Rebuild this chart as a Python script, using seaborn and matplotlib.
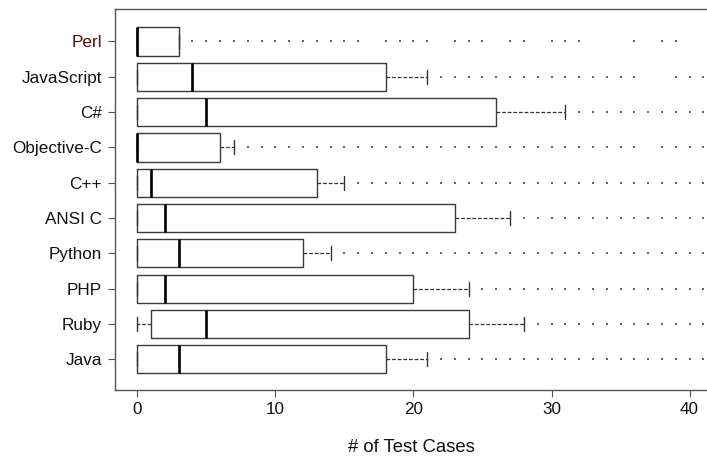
import matplotlib
matplotlib.use("Agg")
import matplotlib.pyplot as plt
import numpy as np
import pandas as pd
import seaborn as sns

# Languages listed top to bottom
languages = ["Perl", "JavaScript", "C#", "Objective-C", "C++",
             "ANSI C", "Python", "PHP", "Ruby", "Java"]

# Box statistics per language (number of test cases)
q1 = [0, 0, 0, 0, 0, 0, 0, 0, 1, 0]
median = [0, 4, 5, 0, 1, 2, 3, 2, 5, 3]
q3 = [3, 18, 26, 6, 13, 23, 12, 20, 24, 18]
whisker_lo = [0, 0, 0, 0, 0, 0, 0, 0, 0, 0]
whisker_hi = [3, 21, 31, 7, 15, 27, 14, 24, 28, 21]

# Outlying observations per language
out_perl = [4, 5, 6, 7, 8, 9, 10, 11, 12, 13, 14, 15, 16, 18, 19, 20, 21,
            23, 24, 25, 27, 28, 30, 31, 32, 36, 38, 39]
out_javascript = [22, 23, 24, 25, 26, 27, 28, 29, 30, 31, 32, 33, 34, 35, 36,
                  39, 40, 41]
out_csharp = [32, 33, 34, 35, 36, 37, 38, 39, 40, 41]
out_objc = [8, 9, 10, 11, 12, 13, 14, 15, 16, 17, 18, 19, 20, 21, 22, 23, 24,
            25, 26, 27, 28, 29, 30, 31, 32, 33, 34, 35, 36, 38, 39, 40, 41]
out_cpp = [16, 17, 18, 19, 20, 21, 22, 23, 24, 25, 26, 27, 28, 29, 30, 31, 32,
           33, 34, 35, 36, 37, 38, 39, 40, 41]
out_ansic = [28, 29, 30, 31, 32, 33, 34, 35, 36, 37, 38, 39, 40, 41]
out_python = [15, 16, 17, 18, 19, 20, 21, 22, 23, 24, 25, 26, 27, 28, 29, 30,
              31, 32, 33, 34, 35, 36, 37, 38, 39, 40, 41]
out_php = [25, 26, 27, 28, 29, 30, 31, 32, 33, 34, 35, 36, 37, 38, 39, 40, 41]
out_ruby = [29, 30, 31, 32, 33, 34, 35, 36, 37, 38, 39, 40, 41]
out_java = [22, 23, 24, 25, 26, 27, 28, 29, 30, 31, 32, 33, 34, 35, 36, 37, 38,
            39, 40, 41]

outliers = [out_perl, out_javascript, out_csharp, out_objc, out_cpp,
            out_ansic, out_python, out_php, out_ruby, out_java]

x_ticks = [0, 10, 20, 30, 40]

sns.set_theme(style="white")
plt.rcParams["font.family"] = ["Liberation Sans", "DejaVu Sans"]

fig = plt.figure(figsize=(7.07, 4.59), dpi=100)
ax = fig.add_axes([115 / 707, 69 / 459, (707 - 115) / 707, (390 - 9) / 459])

stats = [dict(label=lang, q1=a, med=m, q3=b, whislo=lo, whishi=hi, fliers=[])
         for lang, a, m, b, lo, hi in zip(languages, q1, median, q3,
                                          whisker_lo, whisker_hi)]
ax.bxp(stats, positions=range(len(languages)), widths=0.8,
       orientation="horizontal", capwidths=0.4, manage_ticks=False,
       boxprops=dict(color="#3a3a3a", linewidth=1.0),
       medianprops=dict(color="black", linewidth=1.9, solid_capstyle="butt"),
       whiskerprops=dict(color="#333333", linewidth=0.9,
                         linestyle=(0, (3, 1.5))),
       capprops=dict(color="#333333", linewidth=1.0))

df = pd.DataFrame({
    "language": [lang for lang, vals in zip(languages, outliers) for _ in vals],
    "cases": [v for vals in outliers for v in vals],
})
sns.stripplot(data=df, x="cases", y="language", order=languages,
              jitter=False, marker="s", size=1.2, color="#666666",
              linewidth=0, ax=ax)

ax.set_xlim(-1.61, 41.26)
ax.set_ylim(9.87, -0.92)
ax.set_xticks(x_ticks)
ax.set_yticks(range(len(languages)))
ax.set_yticklabels(languages)
ax.set_ylabel("")
ax.set_xlabel("# of Test Cases", fontsize=13.3, labelpad=16, color="#111111")

ax.tick_params(axis="both", direction="out", length=5, width=0.8,
               color="#555555", labelsize=12.3, labelcolor="#111111",
               bottom=True, left=True)
ax.tick_params(axis="x", pad=3.6)
ax.tick_params(axis="y", pad=4.3)
ax.get_yticklabels()[0].set_color("#5a0a0a")

for side in ["top", "left", "bottom"]:
    ax.spines[side].set_visible(True)
    ax.spines[side].set_color("#555555")
    ax.spines[side].set_linewidth(1.0)
ax.spines["right"].set_visible(False)

fig.savefig("out.png", dpi=100)
